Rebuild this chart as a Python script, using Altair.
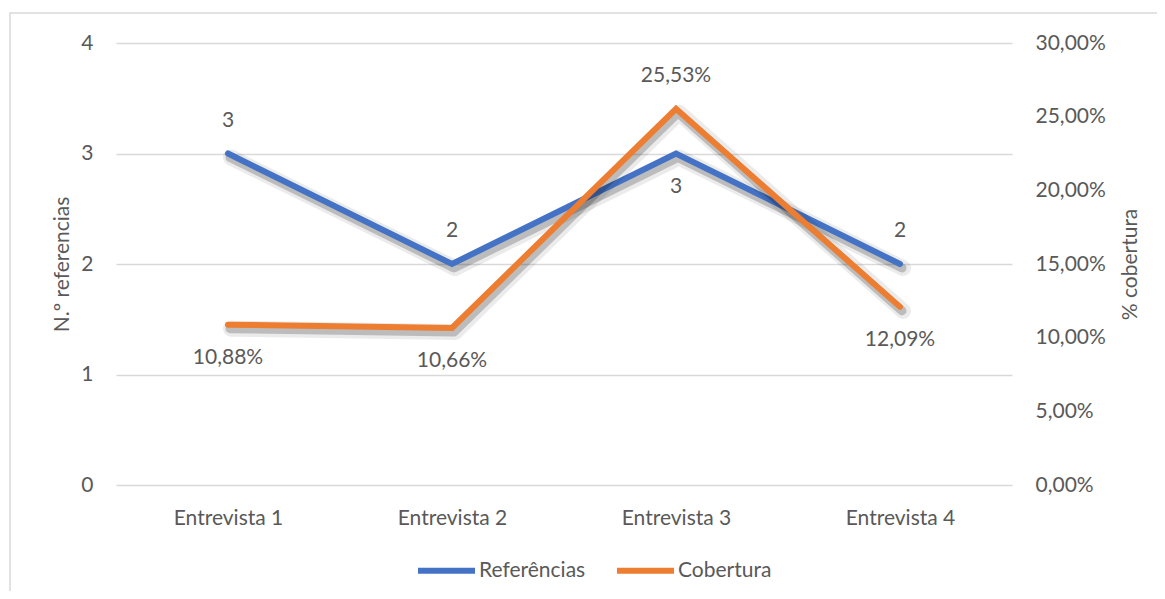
import altair as alt
import pandas as pd

categories = ["Entrevista 1", "Entrevista 2", "Entrevista 3", "Entrevista 4"]
referencias = [3, 2, 3, 2]
cobertura = [0.1088, 0.1066, 0.2553, 0.1209]
series_names = ["Referências", "Cobertura"]

# label placement (style)
ref_label_pos = ["above", "above", "below", "above"]
cob_label_pos = ["below", "below", "above", "below"]

BLUE = "#4472C4"
ORANGE = "#ED7D31"
TXT = "#595959"
GRID = "#D9D9D9"
FONT = "Lato"
FS = 21

df_ref = pd.DataFrame({"cat": categories, "val": referencias,
                       "series": series_names[0], "pos": ref_label_pos})
df_cob = pd.DataFrame({"cat": categories, "val": cobertura,
                       "series": series_names[1], "pos": cob_label_pos})

x_enc = alt.X("cat:N", sort=categories,
              scale=alt.Scale(type="point", padding=0.5),
              axis=alt.Axis(title=None, ticks=False, domain=False, labelAngle=0,
                            grid=False,
                            labelPadding=22, labelFont=FONT, labelFontSize=FS,
                            labelColor=TXT))

y_ref = alt.Y("val:Q", scale=alt.Scale(domain=[0, 4]),
              axis=alt.Axis(title="N.º referencias", values=[0, 1, 2, 3, 4],
                            grid=True, gridColor=GRID, gridWidth=1.3,
                            domain=False, ticks=False, labelPadding=23,
                            labelFont=FONT, labelFontSize=FS, labelColor=TXT,
                            titleFont=FONT, titleFontSize=FS, titleColor=TXT,
                            titleFontWeight="normal", titleAngle=270,
                            titleBaseline="middle", titleAlign="center",
                            titleX=-54, titleY=221))

y_cob = alt.Y("val:Q", scale=alt.Scale(domain=[0, 0.30]),
              axis=alt.Axis(title="% cobertura", orient="right",
                            values=[0, 0.05, 0.10, 0.15, 0.20, 0.25, 0.30],
                            labelExpr="replace(format(datum.value, '.2%'), '.', ',')",
                            grid=False, domain=False, ticks=False, labelPadding=23,
                            labelFont=FONT, labelFontSize=FS, labelColor=TXT,
                            labelAlign="left",
                            titleFont=FONT, titleFontSize=FS, titleColor=TXT,
                            titleFontWeight="normal", titleAngle=270,
                            titleBaseline="middle", titleAlign="center",
                            titleX=118, titleY=221))

color_enc = alt.Color("series:N",
                      scale=alt.Scale(domain=series_names, range=[BLUE, ORANGE]),
                      legend=alt.Legend(title=None, orient="none", direction="horizontal",
                                        legendX=299, legendY=496,
                                        symbolType="stroke", symbolSize=3249,
                                        symbolStrokeWidth=6, labelOffset=1,
                                        columnPadding=19,
                                        labelFont=FONT, labelFontSize=FS,
                                        labelColor=TXT))


def series_layer(df, y_enc, label_expr):
    base = alt.Chart(df)
    sh1 = base.mark_line(color="#000000", opacity=0.08, strokeWidth=16,
                         strokeCap="round", strokeJoin="round",
                         xOffset=3, yOffset=4).encode(x=x_enc, y=y_enc)
    sh2 = base.mark_line(color="#000000", opacity=0.2, strokeWidth=9,
                         strokeCap="round", strokeJoin="round",
                         xOffset=2, yOffset=4).encode(x=x_enc, y=y_enc)
    line = base.mark_line(strokeWidth=6, strokeCap="round",
                          strokeJoin="miter").encode(x=x_enc, y=y_enc, color=color_enc)
    txt = base.transform_calculate(lbl=label_expr)
    above = txt.transform_filter("datum.pos == 'above'").mark_text(
        dy=-33, font=FONT, fontSize=FS, color=TXT).encode(x=x_enc, y=y_enc, text="lbl:N")
    below = txt.transform_filter("datum.pos == 'below'").mark_text(
        dy=33, font=FONT, fontSize=FS, color=TXT).encode(x=x_enc, y=y_enc, text="lbl:N")
    return alt.layer(sh1, sh2, line, above, below)


ref_layer = series_layer(df_ref, y_ref, "format(datum.val, 'd')")
cob_layer = series_layer(df_cob, y_cob, "replace(format(datum.val, '.2%'), '.', ',')")

border = alt.Chart(alt.Data(values=[{"a": 1}])).mark_rect(
    fill=None, stroke=GRID, strokeWidth=1.5).encode(
    x=alt.value(-106), x2=alt.value(1200), y=alt.value(-30), y2=alt.value(700))

chart = alt.layer(border, ref_layer, cob_layer).resolve_scale(
    y="independent"
).properties(
    width=896, height=442,
    background="white",
    autosize=alt.AutoSizeParams(type="none"),
    padding={"left": 108, "top": 35, "right": 145, "bottom": 106},
).configure_view(strokeWidth=0, stroke="transparent")

chart.save("out.html", embed_options={"renderer": "svg", "actions": False})
